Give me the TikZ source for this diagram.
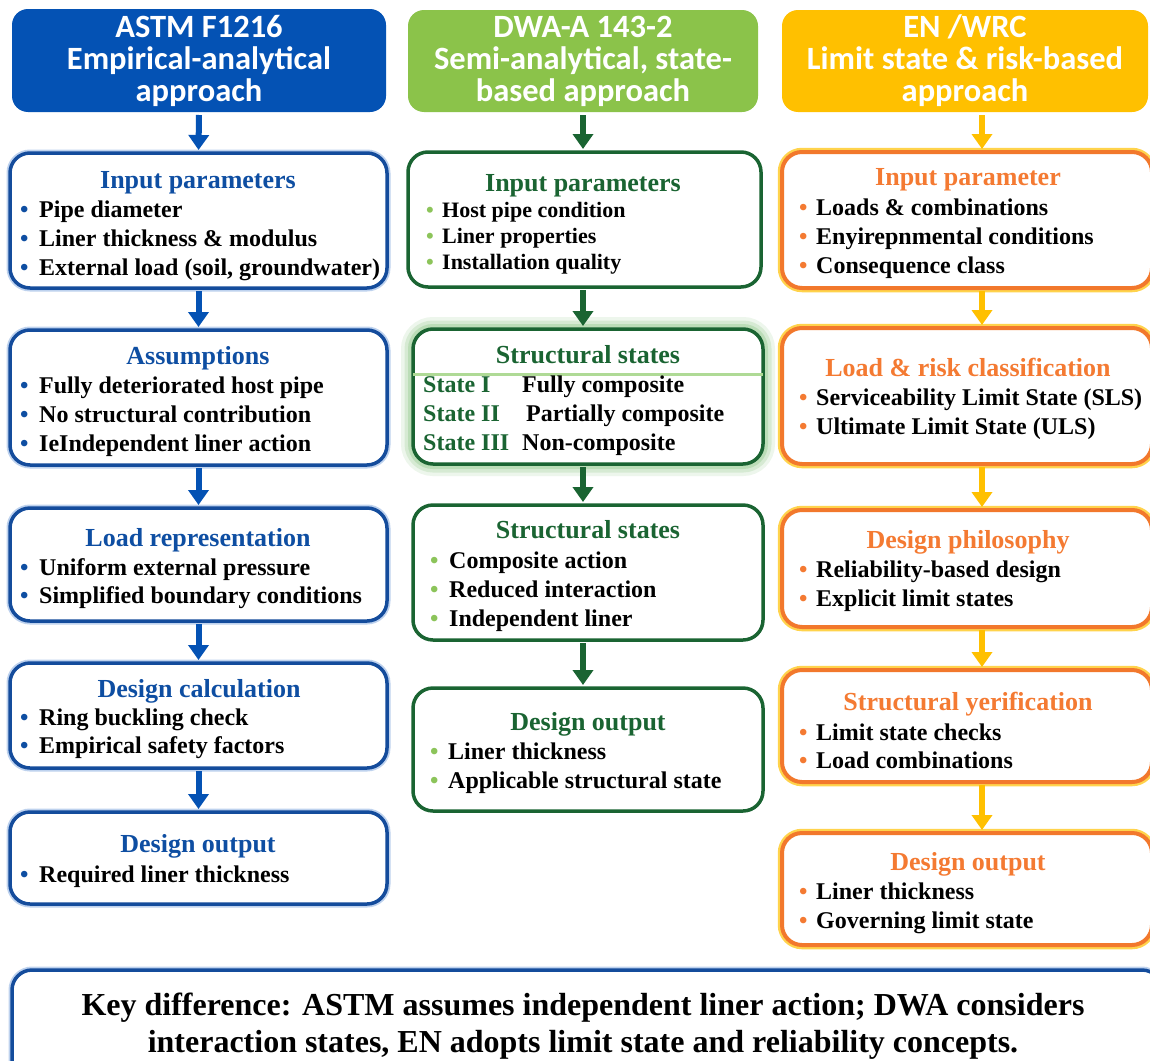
\documentclass[tikz,border=0pt]{standalone}
\usepackage{fontspec}
\setmainfont{Liberation Serif}
\newfontfamily\hdfont{Carlito}
\usetikzlibrary{arrows.meta}
\definecolor{hblue}{RGB}{4,82,180}
\definecolor{bblue}{RGB}{20,76,156}
\definecolor{tblue}{RGB}{14,78,162}
\definecolor{halob}{RGB}{190,210,238}
\definecolor{hgreen}{RGB}{139,195,74}
\definecolor{dgreen}{RGB}{26,100,50}
\definecolor{lgreen}{RGB}{140,196,90}
\definecolor{glow}{RGB}{110,185,100}
\definecolor{sepg}{RGB}{175,218,150}
\definecolor{hyell}{RGB}{255,192,0}
\definecolor{orng}{RGB}{242,120,44}
\definecolor{otxt}{RGB}{244,122,50}
\newcommand\bul[2]{\makebox[#1][l]{\textcolor{#2}{•}}}
\tikzset{
  hdr/.style={rounded corners=16pt, inner sep=0pt, outer sep=0pt, align=center, text=white,
    font=\hdfont\bfseries\fontsize{32.5}{32}\selectfont},
  bbox/.style={rounded corners=20pt, inner sep=0pt, outer sep=0pt, fill=white, draw=bblue,
    line width=3.5pt, preaction={draw=halob, line width=7pt}},
  gbox/.style={rounded corners=20pt, inner sep=0pt, outer sep=0pt, fill=white, draw=dgreen,
    line width=3.5pt},
  glowbox/.style={gbox, preaction={draw=glow, line width=24pt, draw opacity=0.12},
    preaction={draw=glow, line width=17pt, draw opacity=0.18},
    preaction={draw=glow, line width=10pt, draw opacity=0.25}},
  obox/.style={rounded corners=20pt, inner sep=0pt, outer sep=0pt, fill=white, draw=orng,
    line width=4pt, preaction={draw=hyell!70, line width=8.5pt}},
  kbox/.style={rounded corners=20pt, inner sep=0pt, outer sep=0pt, fill=white, draw=bblue,
    line width=3.5pt, preaction={draw=halob, line width=7pt}},
  ttl/.style={font=\bfseries\fontsize{26}{30}\selectfont, text=#1, anchor=base, inner sep=0pt},
  itm/.style={font=\bfseries\fontsize{24}{28}\selectfont, anchor=base west, inner sep=0pt},
  itms/.style={font=\bfseries\fontsize{22}{26}\selectfont, anchor=base west, inner sep=0pt},
  arr/.style={draw=#1, line width=6pt, -{Triangle[width=20pt,length=15pt]},
    shorten <=3pt, shorten >=3pt},
}
\begin{document}
\begin{tikzpicture}[x=1pt,y=-1pt]
\useasboundingbox (0,0) rectangle (1150,1060);
\fill[white] (0,0) rectangle (1150,1060);

% ---------------- Column 1 : ASTM ----------------
\node[hdr, fill=hblue, minimum width=374pt, minimum height=103pt] (h1) at (199,60.5)
  {ASTM F1216\\Empirical-analytical\\approach};
\node[bbox, minimum width=377pt, minimum height=135pt] (b1) at (198.5,220.5) {};
\node[bbox, minimum width=377pt, minimum height=135pt] (b2) at (198.5,397.5) {};
\node[bbox, minimum width=377pt, minimum height=113pt] (b3) at (198.5,564.5) {};
\node[bbox, minimum width=377pt, minimum height=105pt] (b4) at (198.5,715.5) {};
\node[bbox, minimum width=377pt, minimum height=92pt] (b5) at (198.5,858) {};

\node[ttl=tblue] (b1t) at (198,188) {Input parameters};
\node[itm] (b1a) at (20,217) {\bul{19pt}{tblue}Pipe diameter};
\node[itm] (b1b) at (20,246) {\bul{19pt}{tblue}Liner thickness \& modulus};
\node[itm] (b1c) at (20,275) {\bul{19pt}{tblue}External load (soil, groundwater)};

\node[ttl=tblue] (b2t) at (198,364) {Assumptions};
\node[itm] (b2a) at (20,393) {\bul{19pt}{tblue}Fully deteriorated host pipe};
\node[itm] (b2b) at (20,422) {\bul{19pt}{tblue}No structural contribution};
\node[itm] (b2c) at (20,451) {\bul{19pt}{tblue}IeIndependent liner action};

\node[ttl=tblue] (b3t) at (198,546) {Load representation};
\node[itm] (b3a) at (20,575) {\bul{19pt}{tblue}Uniform external pressure};
\node[itm] (b3b) at (20,603) {\bul{19pt}{tblue}Simplified boundary conditions};

\node[ttl=tblue] (b4t) at (199,697) {Design calculation};
\node[itm] (b4a) at (20,725) {\bul{19pt}{tblue}Ring buckling check};
\node[itm] (b4b) at (20,753) {\bul{19pt}{tblue}Empirical safety factors};

\node[ttl=tblue] (b5t) at (198,852) {Design output};
\node[itm] (b5a) at (20,882) {\bul{19pt}{tblue}Required liner thickness};

\draw[arr=hblue] (h1.south) -- (b1.north);
\draw[arr=hblue] (b1.south) -- (b2.north);
\draw[arr=hblue] (b2.south) -- (b3.north);
\draw[arr=hblue] (b3.south) -- (b4.north);
\draw[arr=hblue] (b4.south) -- (b5.north);

% ---------------- Column 2 : DWA ----------------
\node[hdr, fill=hgreen, minimum width=350pt, minimum height=102pt] (h2) at (583,61)
  {DWA-A 143-2\\Semi-analytical, state-\\based approach};
\node[gbox, minimum width=353pt, minimum height=135pt] (g1) at (584.5,219.5) {};
\node[glowbox, minimum width=350pt, minimum height=135pt] (g2) at (588,396.5) {};
\node[gbox, minimum width=350pt, minimum height=135pt] (g3) at (588,572.5) {};
\node[gbox, minimum width=350pt, minimum height=123pt] (g4) at (588,749.5) {};

\node[ttl=dgreen] (g1t) at (583,191) {Input parameters};
\node[itms] (g1a) at (426,217) {\bul{16pt}{lgreen}Host pipe condition};
\node[itms] (g1b) at (426,243) {\bul{16pt}{lgreen}Liner properties};
\node[itms] (g1c) at (426,269) {\bul{16pt}{lgreen}Installation quality};

\node[ttl=dgreen] (g2t) at (588,363) {Structural states};
\draw[sepg, line width=3pt] ([yshift=-45pt]g2.north west) -- ([yshift=-45pt]g2.north east);
\node[itm, text=dgreen] (s1) at (423,392) {State I};
\node[itm, text=dgreen] (s2) at (423,421) {State II};
\node[itm, text=dgreen] (s3) at (423,450) {State III};
\node[itm] (v1) at (522,392) {Fully composite};
\node[itm] (v2) at (526,421) {Partially composite};
\node[itm] (v3) at (522,450) {Non-composite};

\node[ttl=dgreen] (g3t) at (588,538) {Structural states};
\node[itm] (g3a) at (430,568) {\bul{19pt}{lgreen}Composite action};
\node[itm] (g3b) at (430,597) {\bul{19pt}{lgreen}Reduced interaction};
\node[itm] (g3c) at (430,626) {\bul{19pt}{lgreen}Independent liner};

\node[ttl=dgreen] (g4t) at (588,730) {Design output};
\node[itm] (g4a) at (430,759) {\bul{18pt}{lgreen}Liner thickness};
\node[itm] (g4b) at (430,788) {\bul{18pt}{lgreen}Applicable structural state};

\draw[arr=dgreen] (h2.south) -- (h2.south |- g1.north);
\draw[arr=dgreen] (g1.south -| h2.south) -- (g2.north -| h2.south);
\draw[arr=dgreen] (g2.south -| h2.south) -- (g3.north -| h2.south);
\draw[arr=dgreen] (g3.south -| h2.south) -- (g4.north -| h2.south);

% ---------------- Column 3 : EN / WRC ----------------
\node[hdr, fill=hyell, minimum width=366pt, minimum height=102pt] (h3) at (965,61)
  {EN /WRC\\Limit state \& risk-based\\approach};
\node[obox, minimum width=370pt, minimum height=136pt] (o1) at (967,220) {};
\node[obox, minimum width=370pt, minimum height=136pt] (o2) at (967,396) {};
\node[obox, minimum width=370pt, minimum height=117pt] (o3) at (967,568.5) {};
\node[obox, minimum width=370pt, minimum height=112pt] (o4) at (967,726) {};
\node[obox, minimum width=370pt, minimum height=112pt] (o5) at (967,889) {};

\node[ttl=otxt] (o1t) at (968,185) {Input parameter};
\node[itm] (o1a) at (799,215) {\bul{17pt}{otxt}Loads \& combinations};
\node[itm] (o1b) at (799,244) {\bul{17pt}{otxt}Enyirepnmental conditions};
\node[itm] (o1c) at (799,273) {\bul{17pt}{otxt}Consequence class};

\node[ttl=otxt] (o2t) at (968,376) {Load \& risk classification};
\node[itm] (o2a) at (799,405) {\bul{17pt}{otxt}Serviceability Limit State (SLS)};
\node[itm] (o2b) at (799,434) {\bul{17pt}{otxt}Ultimate Limit State (ULS)};

\node[ttl=otxt] (o3t) at (968,548) {Design philosophy};
\node[itm] (o3a) at (799,577) {\bul{17pt}{otxt}Reliability-based design};
\node[itm] (o3b) at (799,606) {\bul{17pt}{otxt}Explicit limit states};

\node[ttl=otxt] (o4t) at (968,710) {Structural yerification};
\node[itm] (o4a) at (799,740) {\bul{17pt}{otxt}Limit state checks};
\node[itm] (o4b) at (799,768) {\bul{17pt}{otxt}Load combinations};

\node[ttl=otxt] (o5t) at (968,870) {Design output};
\node[itm] (o5a) at (799,899) {\bul{17pt}{otxt}Liner thickness};
\node[itm] (o5b) at (799,928) {\bul{17pt}{otxt}Governing limit state};

\draw[arr=hyell] ([xshift=17pt]h3.south) -- ([xshift=15pt]o1.north);
\draw[arr=hyell] ([xshift=15pt]o1.south) -- ([xshift=15pt]o2.north);
\draw[arr=hyell] ([xshift=15pt]o2.south) -- ([xshift=15pt]o3.north);
\draw[arr=hyell] ([xshift=15pt]o3.south) -- ([xshift=15pt]o4.north);
\draw[arr=hyell] ([xshift=15pt]o4.south) -- ([xshift=15pt]o5.north);

% ---------------- Key difference ----------------
\node[kbox, minimum width=1150pt, minimum height=110pt] (kd) at (587,1025) {};
\node[font=\bfseries\fontsize{32}{37}\selectfont, align=center, inner sep=0pt] (kdt) at (583,1026)
  {Key difference: ASTM assumes independent liner action; DWA considers\\
   interaction states, EN adopts limit state and reliability concepts.};
\end{tikzpicture}
\end{document}
